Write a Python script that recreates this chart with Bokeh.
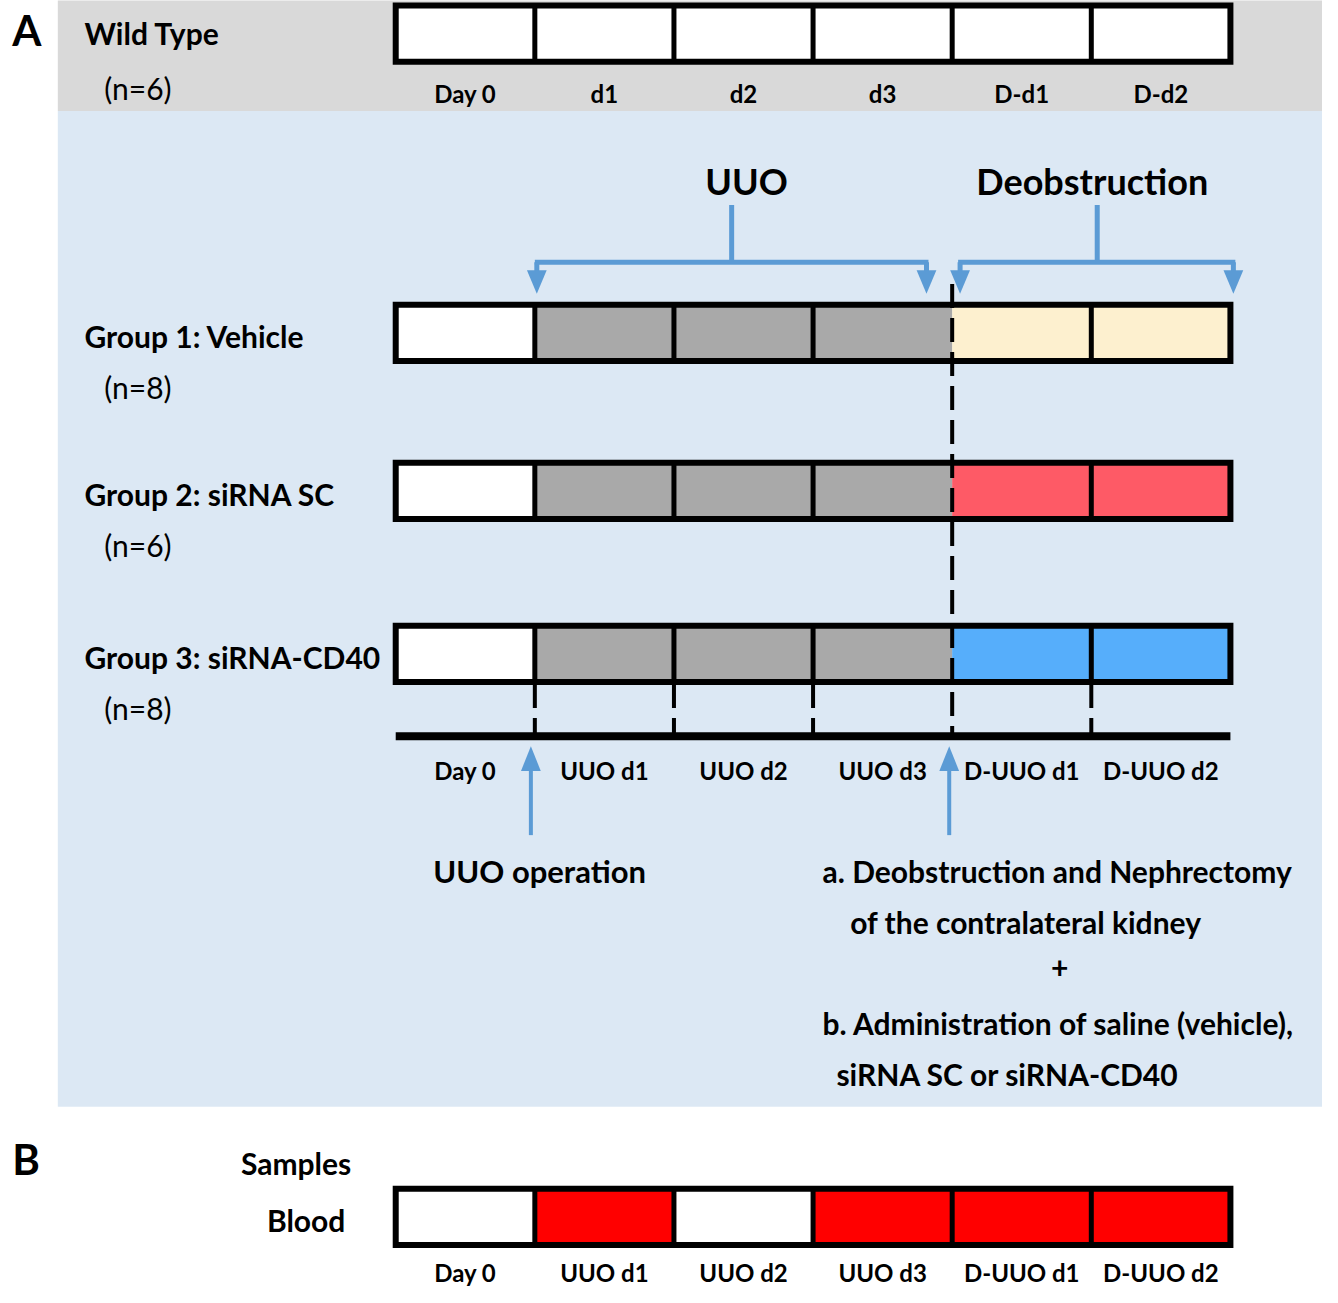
from bokeh.plotting import figure
from bokeh.models import Range1d
from bokeh.core.properties import value
from bokeh.embed import file_html
from bokeh.resources import INLINE

# ---------------- data ----------------
wt_labels = ["Day 0", "d1", "d2", "d3", "D-d1", "D-d2"]
day_labels = ["Day 0", "UUO d1", "UUO d2", "UUO d3", "D-UUO d1", "D-UUO d2"]
day_phase = ["base", "uuo", "uuo", "uuo", "deob", "deob"]
group_names = ["Group 1: Vehicle", "Group 2: siRNA SC", "Group 3: siRNA-CD40"]
group_n = ["(n=8)", "(n=6)", "(n=8)"]
treatment_colors = ["#fdf0cf", "#fe5a66", "#56aefb"]
wt_n = "(n=6)"
blood_sampled = [False, True, False, True, True, True]

# ---------------- style / layout ----------------
FONT = "Lato"
BLACK = "#000000"
ARROW = "#5b9bd5"
GRAY_BAND = "#d9d9d9"
BLUE_BG = "#dce8f4"
UUO_GRAY = "#a9a9a9"
BLOOD_RED = "#ff0000"

X0, CW, BH = 400, 140.8, 57
WT_TOP = 5
GROUP_TOPS = [308, 468, 633]
BLOOD_TOP = 1203
TIMELINE_Y = 745

p = figure(width=1322, height=1287, x_range=Range1d(0, 1338), y_range=Range1d(1303, 0),
           output_backend="svg", toolbar_location=None, min_border=0,
           x_axis_location=None, y_axis_location=None, background_fill_color="white",
           border_fill_color="white", outline_line_color=None)
p.grid.visible = False


def txt(x, y, s, size, bold=True, align="left"):
    p.text(x=[x], y=[y], text=[s], text_font=value(FONT), text_font_size=f"{size}px",
           text_font_style="bold" if bold else "normal", text_align=align,
           text_baseline="middle", text_color=BLACK)


# backgrounds
p.quad(left=[58], right=[1340], top=[-2], bottom=[112], fill_color=GRAY_BAND, line_color=None)
p.quad(left=[58], right=[1340], top=[112], bottom=[1120], fill_color=BLUE_BG, line_color=None)

n = len(day_labels)
lefts = [X0 + i * CW for i in range(n)]
rights = [X0 + (i + 1) * CW for i in range(n)]
centers = [X0 + (i + 0.5) * CW for i in range(n)]
X1 = X0 + n * CW
deob_x = lefts[day_phase.index("deob")]


def bar(top, colors, skip_sep=None):
    p.quad(left=lefts, right=rights, top=[top] * n, bottom=[top + BH] * n,
           fill_color=colors, line_color=None)
    seps = [x for x in lefts[1:] if x != skip_sep]
    p.segment(x0=seps, x1=seps, y0=[top] * len(seps), y1=[top + BH] * len(seps),
              line_color=BLACK, line_width=5)
    p.quad(left=[X0], right=[X1], top=[top], bottom=[top + BH], fill_alpha=0,
           line_color=BLACK, line_width=6, line_join="miter")


# Wild type
bar(WT_TOP, ["white"] * n)
for c, s in zip(centers, wt_labels):
    txt(c, 94, s, 24, align="center")
txt(12, 30, "A", 42, align="left")
txt(85, 33, "Wild Type", 30)
txt(105, 89, wt_n, 30, bold=False)

# Groups
for top, name, nn, col in zip(GROUP_TOPS, group_names, group_n, treatment_colors):
    phase_color = {"base": "white", "uuo": UUO_GRAY, "deob": col}
    bar(top, [phase_color[ph] for ph in day_phase], skip_sep=deob_x)
    txt(85, top + 32, name, 30)
    txt(105, top + 83, nn, 30, bold=False)

# dashed verticals
p.segment(x0=[deob_x], x1=[deob_x], y0=[287], y1=[TIMELINE_Y], line_color=BLACK,
          line_width=4, line_dash="24 10")
tick_x = [x for x in lefts[1:] if x != deob_x]
last_bottom = GROUP_TOPS[-1] + BH
p.segment(x0=tick_x, x1=tick_x, y0=[last_bottom] * len(tick_x), y1=[TIMELINE_Y] * len(tick_x),
          line_color=BLACK, line_width=4, line_dash="26 10")

# timeline
p.segment(x0=[X0], x1=[X1], y0=[TIMELINE_Y], y1=[TIMELINE_Y], line_color=BLACK, line_width=8)
for c, s in zip(centers, day_labels):
    txt(c, 780, s, 24, align="center")


def head(x, y_base, length, down=True, w=10):
    tip = y_base + length if down else y_base - length
    p.patches(xs=[[x - w, x + w, x]], ys=[[y_base, y_base, tip]], fill_color=ARROW, line_color=None)


# brackets
uuo_l, uuo_r = lefts[1] + 2, rights[3] - 26
deo_l, deo_r = deob_x + 8, X1 + 3
for lx, rx, mx in [(uuo_l, uuo_r, (uuo_l + uuo_r) / 2), (deo_l, deo_r, 1110)]:
    p.segment(x0=[mx], x1=[mx], y0=[207], y1=[265], line_color=ARROW, line_width=5)
    p.segment(x0=[lx - 2], x1=[rx + 2], y0=[265], y1=[265], line_color=ARROW, line_width=5)
    p.segment(x0=[lx, rx], x1=[lx, rx], y0=[265, 265], y1=[275, 275], line_color=ARROW, line_width=5)
    head(lx, 273, 24)
    head(rx, 273, 24)
txt(755, 183, "UUO", 36, align="center")
txt(1105, 183, "Deobstruction", 36, align="center")

# upward arrows
for ax in [lefts[1] - 4, deob_x - 3]:
    p.segment(x0=[ax], x1=[ax], y0=[845], y1=[775], line_color=ARROW, line_width=4)
    head(ax, 780, 25, down=False, w=10)

txt(438, 881, "UUO operation", 31)
txt(832, 881, "a. Deobstruction and Nephrectomy", 30)
txt(860, 933, "of the contralateral kidney", 30)
txt(1072, 980, "+", 30, align="center")
txt(832, 1035, "b. Administration of saline (vehicle),", 30)
txt(846, 1087, "siRNA SC or siRNA-CD40", 30)

# B panel
txt(12, 1173, "B", 42)
txt(355, 1177, "Samples", 30, align="right")
txt(349, 1235, "Blood", 30, align="right")
bar(BLOOD_TOP, [BLOOD_RED if b else "white" for b in blood_sampled])
for c, s in zip(centers, day_labels):
    txt(c, 1288, s, 24, align="center")

open("out.html", "w").write(file_html(p, INLINE))
